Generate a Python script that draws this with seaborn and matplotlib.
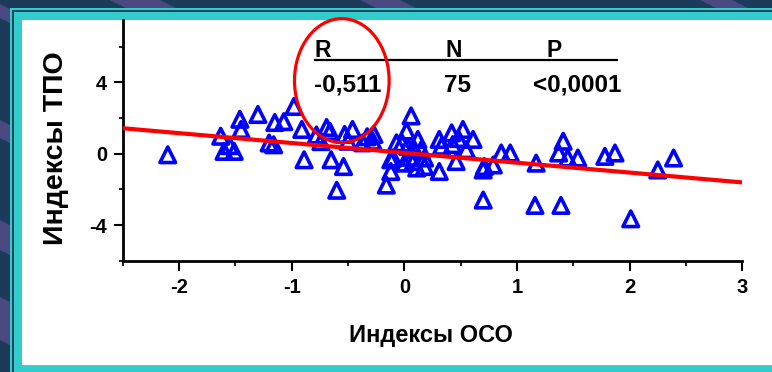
import matplotlib
matplotlib.use("Agg")
import matplotlib.pyplot as plt
from matplotlib.patches import Rectangle, Polygon, Ellipse
from matplotlib.ticker import MultipleLocator
import seaborn as sns

# Индексы ОСО (x) and Индексы ТПО (y) for each patient
oco = [-2.10, -1.63, -1.60, -1.51, -1.46, -1.45, -1.30, -1.20, -1.16, -1.15,
       -1.07, -0.98, -0.91, -0.89, -0.69, -0.66, -0.74, -0.65, -0.60, -0.54,
       -0.53, -0.46, -0.37, -0.28, -0.27, -0.10, -0.12, -0.16, -0.07, 0.02,
       0.06, 0.03, 0.09, 0.12, 0.00, 0.08, 0.11, 0.18, 0.18, 0.31,
       0.31, 0.33, 0.42, 0.43, 0.46, 0.52, 0.55, 0.61, 0.70, 0.70,
       0.79, 0.86, 0.94, 1.17, 1.16, 1.39, 1.41, 1.37, 1.45, 1.54,
       1.78, 1.87, 2.01, 2.25, 2.39, -0.50, -0.12, 0.15, -0.02, 0.71,
       -1.55, -0.33, 0.48, 0.05, -0.78]
tpo = [-0.06, 0.98, 0.13, 0.13, 1.93, 1.36, 2.20, 0.60, 0.50, 1.75,
       1.80, 2.65, 1.36, -0.34, 1.47, 1.25, 0.68, -0.34, -2.05, -0.72,
       1.08, 1.36, 0.61, 0.70, 1.08, -0.24, -1.00, -1.76, 0.61, 1.27,
       2.12, 0.41, 0.23, 0.80, -0.53, -0.44, -0.80, -0.24, -0.72, -1.00,
       0.80, 0.42, 1.17, 0.51, -0.44, 1.36, 0.23, 0.80, -0.91, -2.60,
       -0.63, 0.04, 0.04, -0.53, -2.90, -2.90, 0.70, 0.04, -0.24, -0.24,
       -0.15, 0.04, -3.65, -0.91, -0.24, 0.70, -0.34, 0.23, 0.60, -0.72,
       0.45, 0.95, 0.85, -0.20, 1.05]

# Regression line end points
fit_x = [-2.5, 3.0]
fit_y = [1.43, -1.61]

# Statistics table
stat_headers = ["R", "N", "P"]
stat_values = ["-0,511", "75", "<0,0001"]

x_ticks = [-2, -1, 0, 1, 2, 3]
y_ticks = [-4, 0, 4]

W, H = 772, 372
sns.set_theme(style="white")
plt.rcParams["font.family"] = ["Liberation Sans", "DejaVu Sans"]
plt.rcParams["font.weight"] = "bold"
plt.rcParams["axes.unicode_minus"] = False

fig = plt.figure(figsize=(W / 100, H / 100), dpi=100)
navy = "#1c3b5a"
purple = "#4a4a80"
cyan = "#33cccc"
fig.patch.set_facecolor(navy)


def px_rect(x0, y0, x1, y1, color, z):
    fig.patches.append(Rectangle((x0 / W, 1 - y1 / H), (x1 - x0) / W, (y1 - y0) / H,
                                 transform=fig.transFigure, facecolor=color,
                                 edgecolor="none", zorder=z))


# diagonal background stripes (offset at left edge, thickness), in pixels
stripes = [(-366, 16), (-200, 20), (-80, 25), (4, 14), (120, 18), (220, 30), (297, 43)]
for b, h in stripes:
    pts = [(0, b), (W, b + W / 2), (W, b + h + W / 2), (0, b + h)]
    fig.patches.append(Polygon([(px / W, 1 - py / H) for px, py in pts],
                               transform=fig.transFigure, facecolor=purple,
                               edgecolor="none", zorder=-10))

# framed white panel
px_rect(10, 8, W, H, cyan, -5)
px_rect(12, 10, W, H, "#1a4660", -4)
px_rect(14, 12, W, H, cyan, -3)
px_rect(22, 20, W, 365, "white", -2)
px_rect(22, 364.5, W, 365.5, "#9aaab8", -1)

ax = fig.add_axes([122.7 / W, 1 - 260.7 / H, (742.3 - 122.7) / W, (260.7 - 20) / H])
ax.set_facecolor("none")

sns.scatterplot(x=oco, y=tpo, ax=ax, marker="^", s=125, facecolor="none",
                edgecolor="#0000ff", linewidth=2.6, zorder=3)
sns.lineplot(x=fit_x, y=fit_y, ax=ax, color="#ff0000", linewidth=3.0, zorder=4)

ax.set_xlim(-2.5, 3.0)
ax.set_ylim(-6.0, 7.5)
ax.set_xticks(x_ticks)
ax.set_yticks(y_ticks)
ax.xaxis.set_minor_locator(MultipleLocator(0.5))
ax.yaxis.set_minor_locator(MultipleLocator(2))
for s in ["top", "right"]:
    ax.spines[s].set_visible(False)
for s in ["left", "bottom"]:
    ax.spines[s].set_linewidth(2.0)
    ax.spines[s].set_color("black")
ax.tick_params(axis="x", which="major", direction="out", length=7.2, width=1.5,
               pad=5, labelsize=14.5, colors="black", bottom=True)
ax.tick_params(axis="x", which="minor", direction="out", length=3.6, width=1.5,
               bottom=True)
ax.tick_params(axis="y", which="major", direction="out", length=6.5, width=1.5,
               pad=4.8, labelsize=14.5, colors="black", left=True)
ax.tick_params(axis="y", which="minor", direction="out", length=3.2, width=1.5,
               left=True)
for lab in ax.get_xticklabels() + ax.get_yticklabels():
    lab.set_fontweight("bold")

# statistics table with the highlighted correlation coefficient
hdr_x = [-0.80, 0.44, 1.26]
hdr_ha = ["left", "center", "left"]
val_x = [-0.80, 0.47, 1.93]
val_ha = ["left", "center", "right"]
for t, xx, ha in zip(stat_headers, hdr_x, hdr_ha):
    ax.text(xx, 5.45, t, ha=ha, va="baseline", fontsize=16.5, fontweight="bold",
            color="black", zorder=5)
for t, xx, ha in zip(stat_values, val_x, val_ha):
    ax.text(xx, 3.48, t, ha=ha, va="baseline", fontsize=17.5, fontweight="bold",
            color="black", zorder=5)
ax.plot([-0.80, 1.90], [5.26, 5.26], color="black", linewidth=1.6,
        solid_capstyle="butt", zorder=5)
ax.add_patch(Ellipse((-0.555, 4.1), 0.84, 6.95, facecolor="none",
                     edgecolor="#ff0000", linewidth=2.3, clip_on=False, zorder=6))

ax.set_xlabel("")
ax.set_ylabel("")
fig.text(431 / W, 1 - 342 / H, "Индексы ОСО", ha="center", va="baseline",
         fontsize=17, fontweight="bold", color="black")
fig.text(63 / W, 1 - 148 / H, "Индексы ТПО", ha="center", va="baseline",
         rotation=90, rotation_mode="anchor", fontsize=20.5, fontweight="bold",
         color="black")

fig.savefig("out.png", dpi=100, facecolor=fig.get_facecolor())
